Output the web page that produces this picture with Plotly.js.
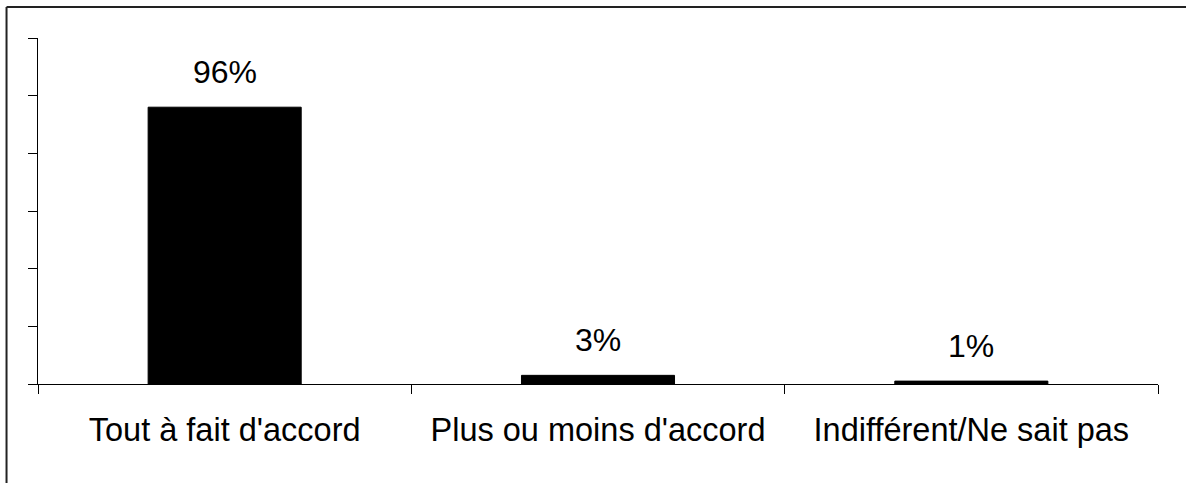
<!DOCTYPE html>
<html>
<head>
<meta charset="utf-8">
<script src="https://cdn.plot.ly/plotly-3.0.1.min.js"></script>
<style>
html,body{margin:0;padding:0;background:#fff;}
#chart{width:1186px;height:483px;}
</style>
</head>
<body>
<div id="chart"></div>
<script>
const categories = ["Tout à fait d'accord", "Plus ou moins d'accord", "Indifférent/Ne sait pas"];
const values = [96, 3, 1];
const valueLabels = ["96%", "3%", "1%"];

const FONT = "Liberation Sans, Arial, sans-serif";

const trace = {
  type: 'bar',
  x: categories,
  y: values,
  width: 0.41,
  marker: {color: '#000000', line: {color: '#000000', width: 1}},
  hoverinfo: 'none'
};

const annotations = categories.map((c, i) => ({
  x: c, y: values[i], xref: 'x', yref: 'y',
  text: valueLabels[i], showarrow: false,
  yanchor: 'bottom', yshift: 15,
  font: {family: FONT, size: 32, color: '#000'}
}));

const layout = {
  width: 1186, height: 483,
  margin: {l: 38, r: 28, t: 38, b: 99},
  paper_bgcolor: '#fff', plot_bgcolor: '#fff',
  showlegend: false,
  bargap: 0.59,
  xaxis: {
    type: 'category',
    showline: true, linecolor: '#000', linewidth: 1,
    ticks: 'outside', tickson: 'boundaries', ticklen: 9, tickcolor: '#000', tickwidth: 1,
    showgrid: false, zeroline: false,
    ticklabelstandoff: 17,
    tickfont: {family: FONT, size: 32.5, color: '#000'}
  },
  yaxis: {
    range: [0, 120], dtick: 20,
    showline: true, linecolor: '#000', linewidth: 1,
    ticks: 'outside', ticklen: 9, tickcolor: '#000', tickwidth: 1,
    showticklabels: false, showgrid: false, zeroline: false
  },
  annotations: annotations,
  shapes: [
    {type: 'line', xref: 'paper', yref: 'paper', x0: -0.0281, x1: 1.03, y0: 1.0896, y1: 1.0896,
     line: {color: '#222', width: 2}},
    {type: 'line', xref: 'paper', yref: 'paper', x0: -0.0281, x1: -0.0281, y0: 1.0896, y1: -0.3,
     line: {color: '#222', width: 2}}
  ]
};

Plotly.newPlot('chart', [trace], layout, {staticPlot: true, displayModeBar: false});
</script>
</body>
</html>
